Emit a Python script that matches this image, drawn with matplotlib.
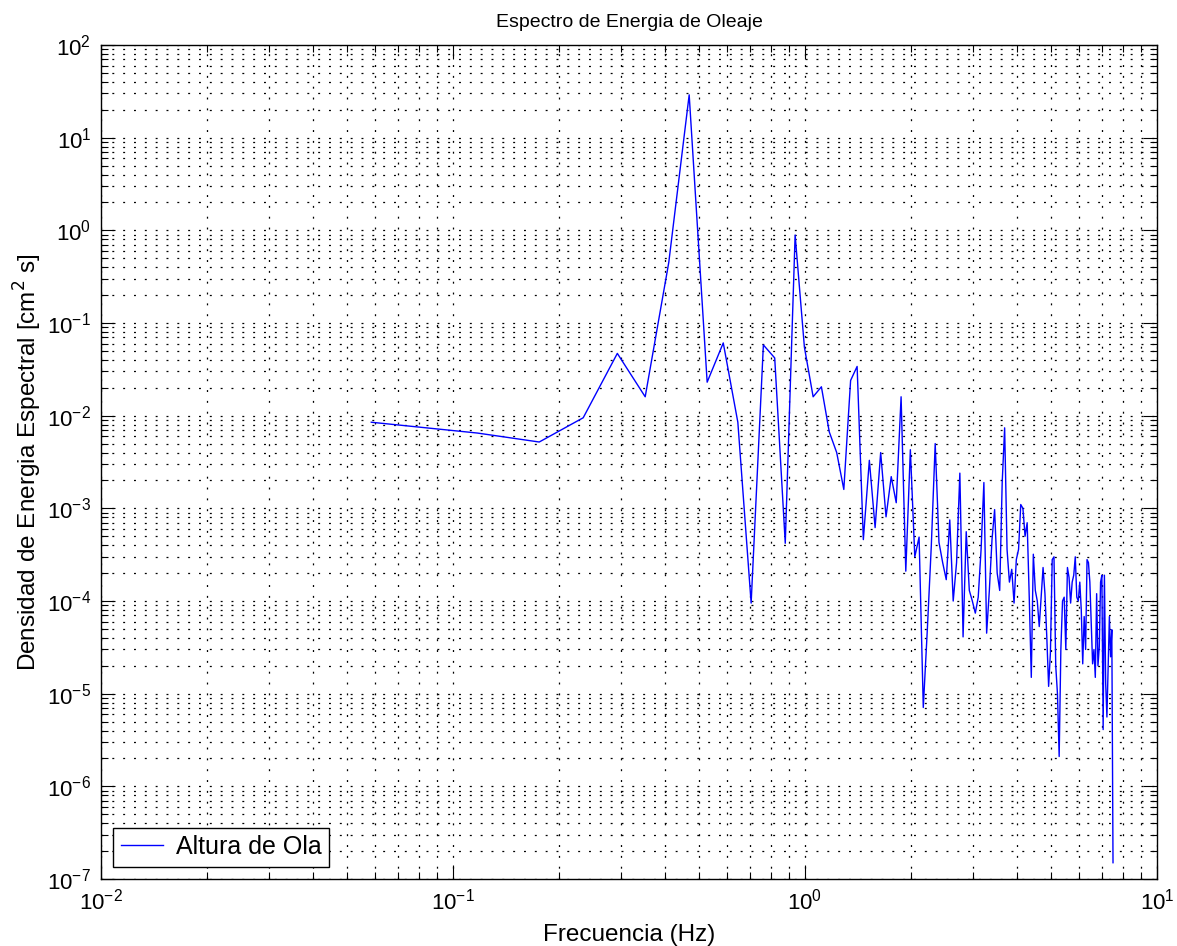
import numpy as np
import matplotlib
matplotlib.use("Agg")
import matplotlib.pyplot as plt
from matplotlib.ticker import LogLocator, NullFormatter

# Spectral bins (Hz)
freq = [
    0.0586, 0.1172, 0.1758, 0.2344, 0.2930, 0.3516, 0.4102, 0.4688,
    0.5273, 0.5859, 0.6445, 0.7031, 0.7617, 0.8203, 0.8789, 0.9375,
    0.9961, 1.0547, 1.1133, 1.1719, 1.2305, 1.2891, 1.3477, 1.4063,
    1.4648, 1.5234, 1.5820, 1.6406, 1.6992, 1.7578, 1.8164, 1.8750,
    1.9336, 1.9922, 2.0508, 2.1094, 2.1680, 2.2266, 2.2852, 2.3438,
    2.4023, 2.4609, 2.5195, 2.5781, 2.6367, 2.6953, 2.7539, 2.8125,
    2.8711, 2.9297, 2.9883, 3.0469, 3.1055, 3.1641, 3.2227, 3.2813,
    3.3398, 3.3984, 3.4570, 3.5156, 3.5742, 3.6328, 3.6914, 3.7500,
    3.8086, 3.8672, 3.9258, 3.9844, 4.0430, 4.1016, 4.1602, 4.2188,
    4.2773, 4.3359, 4.3945, 4.4531, 4.5117, 4.5703, 4.6289, 4.6875,
    4.7461, 4.8047, 4.8633, 4.9219, 4.9805, 5.0391, 5.0977, 5.1563,
    5.2148, 5.2734, 5.3320, 5.3906, 5.4492, 5.5078, 5.5664, 5.6250,
    5.6836, 5.7422, 5.8008, 5.8594, 5.9180, 5.9766, 6.0352, 6.0938,
    6.1523, 6.2109, 6.2695, 6.3281, 6.3867, 6.4453, 6.5039, 6.5625,
    6.6211, 6.6797, 6.7383, 6.7969, 6.8555, 6.9141, 6.9727, 7.0313,
    7.0898, 7.1484, 7.2070, 7.2656, 7.3242, 7.3828, 7.4414, 7.5000,
]

# Energy density (cm^2 s)
energia = [
    8.5e-3, 6.5e-3, 5.2e-3, 9.5e-3, 4.7e-2, 1.6e-2, 4.5e-1, 2.9e1,
    2.3e-2, 6.1e-2, 8.5e-3, 9.5e-5, 5.8e-2, 4.2e-2, 4.2e-4, 8.9e-1,
    5.5e-2, 1.6e-2, 2.05e-2, 6.7e-3, 4.0e-3, 1.6e-3, 2.4e-2, 3.4e-2,
    4.6e-4, 3.3e-3, 6.2e-4, 4.0e-3, 8.1e-4, 2.2e-3, 1.15e-3, 1.6e-2,
    2.1e-4, 4.3e-3, 3.0e-4, 4.9e-4, 7.1e-6, 5.0e-5, 4.0e-4, 5.0e-3,
    4.3e-4, 2.6e-4, 1.7e-4, 7.5e-4, 1.0e-4, 2.6e-4, 2.4e-3, 4.1e-5,
    5.6e-4, 1.3e-4, 1.0e-4, 7.4e-5, 1.1e-4, 3.6e-4, 1.9e-3, 4.5e-5,
    1.3e-4, 4.6e-4, 9.7e-4, 2.0e-4, 1.3e-4, 1.9e-3, 7.4e-3, 3.6e-4,
    1.6e-4, 2.2e-4, 9.5e-5, 2.8e-4, 3.6e-4, 1.1e-3, 1.0e-3, 5.0e-4,
    7.0e-4, 1.1e-4, 1.5e-5, 3.2e-4, 1.3e-4, 1.0e-4, 5.3e-5, 1.1e-4,
    2.3e-4, 1.2e-4, 4.1e-5, 1.2e-5, 2.8e-5, 2.8e-4, 3.0e-4, 2.0e-5,
    1.0e-5, 2.1e-6, 3.0e-5, 1.0e-4, 1.1e-4, 3.0e-5, 2.3e-4, 1.8e-4,
    9.5e-5, 1.6e-4, 1.9e-4, 3.0e-4, 1.1e-4, 1.0e-4, 1.6e-4, 8.0e-5,
    2.1e-5, 6.8e-5, 3.0e-5, 2.8e-4, 2.6e-4, 1.6e-4, 6.0e-5, 2.1e-5,
    3.0e-5, 1.5e-5, 1.2e-4, 2.0e-5, 3.2e-5, 1.6e-4, 1.9e-4, 4.1e-6,
    1.9e-4, 1.3e-5, 5.6e-6, 2.0e-5, 6.8e-5, 2.5e-5, 4.9e-5, 1.5e-7,
]

x_decades = [1e-2, 1e-1, 1e0, 1e1]
y_decades = [1e-7, 1e-6, 1e-5, 1e-4, 1e-3, 1e-2, 1e-1, 1e0, 1e1, 1e2]

plt.rcParams["font.family"] = ["Liberation Sans", "DejaVu Sans"]
plt.rcParams["font.size"] = 16
plt.rcParams["lines.scale_dashes"] = False

fig = plt.figure(figsize=(11.77, 9.46), dpi=100)
ax = fig.add_axes([0.0858, 0.0708, 0.8972, 0.8816])

ax.loglog(freq, energia, color="#0000ff", linewidth=1.0, label="Altura de Ola")

ax.set_xlim(x_decades[0], x_decades[-1])
ax.set_ylim(y_decades[0], y_decades[-1])
ax.set_xticks(x_decades)
ax.set_yticks(y_decades)
ax.xaxis.set_minor_locator(LogLocator(base=10, subs=np.arange(2, 10), numticks=50))
ax.yaxis.set_minor_locator(LogLocator(base=10, subs=np.arange(2, 10), numticks=50))
ax.xaxis.set_minor_formatter(NullFormatter())
ax.yaxis.set_minor_formatter(NullFormatter())

# dotted grid on every decade and sub-decade
ax.grid(True, which="both", color="k", linestyle=(0, (1.4, 6.4)), linewidth=0.9)
ax.set_axisbelow(True)

ax.tick_params(which="both", direction="in", top=True, right=True, width=0.8,
               labelsize=16)
ax.tick_params(which="major", length=10, pad=7)
ax.tick_params(which="minor", length=5)
for s in ax.spines.values():
    s.set_linewidth(1.0)

ax.set_title("Espectro de Energia de Oleaje", fontsize=14, pad=13)
ax.set_xlabel("Frecuencia (Hz)", fontsize=17.5, labelpad=7)
ax.set_ylabel("Densidad de Energia Espectral [cm$^2$ s]", fontsize=17.5, labelpad=2)

leg = ax.legend(loc="lower left", fontsize=18, fancybox=False, framealpha=1,
                edgecolor="k", handlelength=1.7, handletextpad=0.5,
                borderaxespad=0.5, borderpad=0.3)
leg.get_frame().set_linewidth(1.0)

fig.savefig("out.png", dpi=100)
